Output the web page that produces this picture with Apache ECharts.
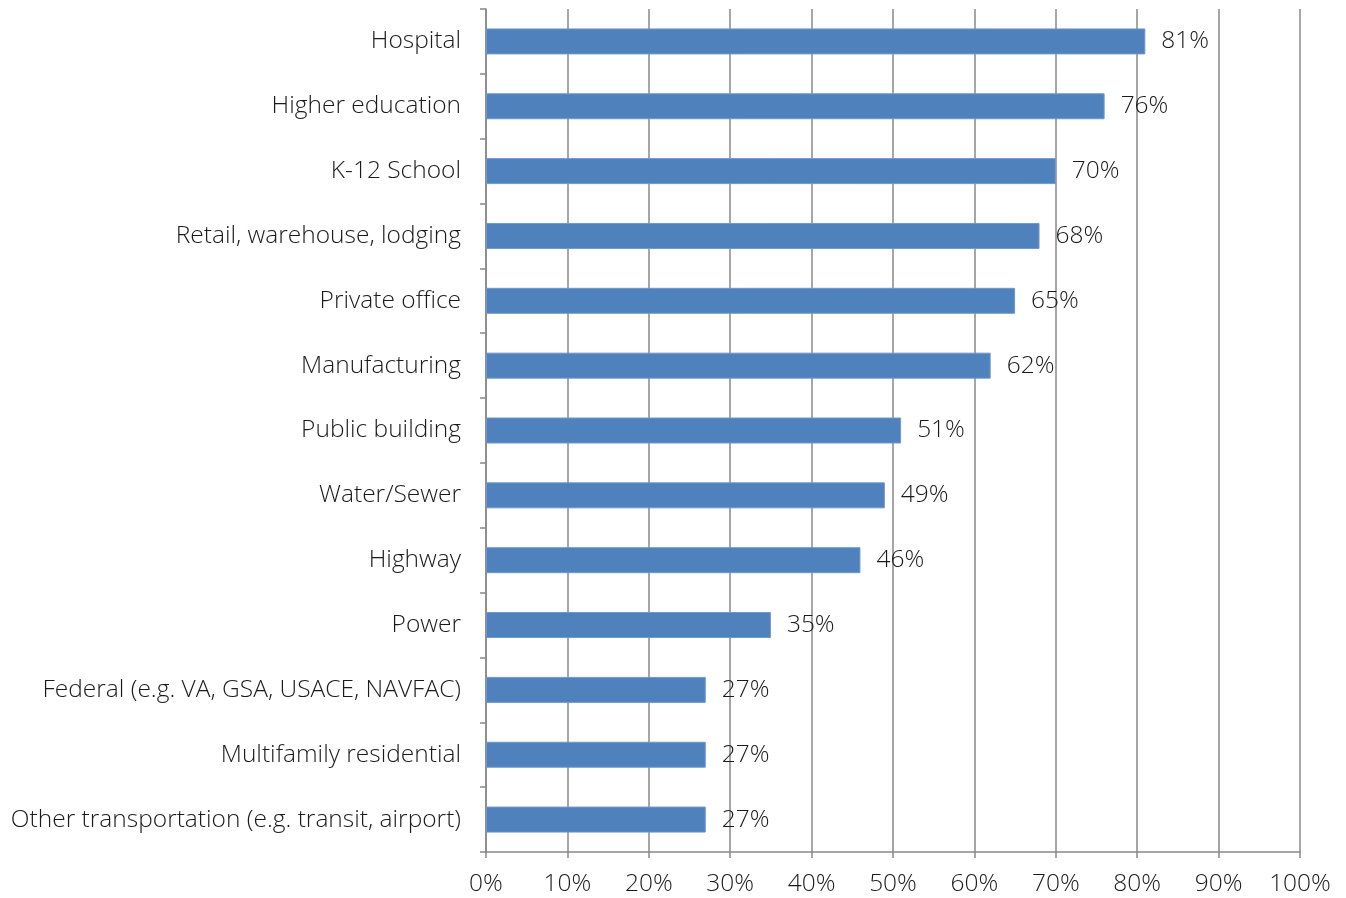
<!DOCTYPE html>
<html><head><meta charset="utf-8">
<script src="https://cdn.jsdelivr.net/npm/echarts@6/dist/echarts.min.js"></script>
<style>html,body{margin:0;padding:0;background:#fff}#c{width:1346px;height:898px}</style>
</head><body><div id="c"></div>
<script>
const categories = ["Hospital","Higher education","K-12 School","Retail, warehouse, lodging","Private office","Manufacturing","Public building","Water/Sewer","Highway","Power","Federal (e.g. VA, GSA, USACE, NAVFAC)","Multifamily residential","Other transportation (e.g. transit, airport)"];
const values = [81,76,70,68,65,62,51,49,46,35,27,27,27];
const xTicks = [0,10,20,30,40,50,60,70,80,90,100];

const font = "'Open Sans', sans-serif";
const chart = echarts.init(document.getElementById('c'));
chart.setOption({
  animation:false,
  grid:{left:486,right:46,top:9,bottom:46,containLabel:false},
  xAxis:{type:'value',min:0,max:100,interval:10,
    axisLine:{show:true,lineStyle:{color:'#888',width:1.5}},
    axisTick:{show:true,length:6,lineStyle:{color:'#888',width:1.5}},
    splitLine:{show:true,lineStyle:{color:'#888',width:1.5}},
    axisLabel:{formatter:v=>v+'%',fontFamily:font,fontWeight:300,fontSize:24.5,color:'#1a1a1a',margin:20}},
  yAxis:{type:'category',data:categories,inverse:true,
    axisLine:{show:true,lineStyle:{color:'#888',width:1.5}},
    axisTick:{show:true,length:6,lineStyle:{color:'#888',width:1.5}},
    axisLabel:{fontFamily:font,fontWeight:300,fontSize:24.5,color:'#1a1a1a',margin:25}},
  series:[{type:'bar',data:values,barWidth:26,
    itemStyle:{color:'#4F81BD',borderColor:'#6f99cc',borderWidth:1},
    label:{show:true,position:'right',distance:16,formatter:p=>p.value+'%',fontFamily:font,fontWeight:300,fontSize:24.5,color:'#1a1a1a'}}]
});
</script></body></html>
